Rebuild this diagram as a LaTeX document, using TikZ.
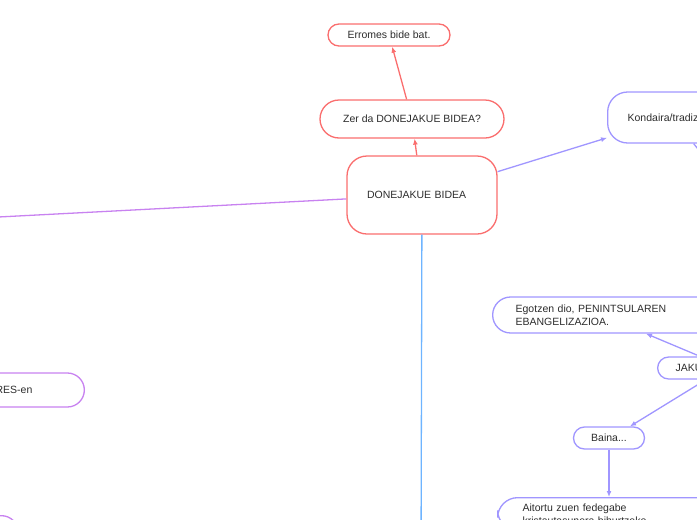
\documentclass[tikz,border=0pt]{standalone}
\usepackage{fontspec}
\setmainfont{Liberation Sans}
\usepackage{tikz}
\usetikzlibrary{arrows.meta}
\usepackage{xcolor}
\definecolor{mapred}{RGB}{250,110,110}
\definecolor{mapblue}{RGB}{160,150,255}
\definecolor{mappurple}{RGB}{200,130,240}
\definecolor{mapsky}{RGB}{110,180,255}
\definecolor{maptext}{RGB}{45,45,45}

\begin{document}
\begin{tikzpicture}[x=1pt, y=-1pt,
        % Define a style for the topic boxes and the arrows
        topic/.style={draw, fill=white, line width=1.3pt, text=maptext,
            font=\fontsize{10.5}{13}\selectfont, inner sep=0pt},
        link/.style={line width=1.3pt, -{Latex[length=6pt, width=5pt]}}]

        % 1. Fix the frame
        \useasboundingbox (0,0) rectangle (697,520);
        \clip (0,0) rectangle (697,520);

        % 2. Place the topics
        \node[topic, draw=mapred, minimum height=78pt, rounded corners=20pt, text width=110pt, inner xsep=20pt, align=left] (main) at (422,195) {DONEJAKUE BIDEA};
        \node[topic, draw=mapred, minimum width=184pt, minimum height=38pt, rounded corners=19pt] (zerda) at (412,119) {Zer da DONEJAKUE BIDEA?};
        \node[topic, draw=mapred, minimum width=122pt, minimum height=22pt, rounded corners=11pt] (erromes) at (389,35) {Erromes bide bat.};

        \node[topic, draw=mapblue, anchor=west, minimum height=51pt, rounded corners=20pt, text width=150pt, inner xsep=20pt, align=left] (kondaira) at (607,117.5) {Kondaira/tradizioa};
        \node[topic, draw=mapblue, anchor=west, minimum height=36pt, rounded corners=18pt, text width=220pt, inner xsep=23pt, align=left] (egotzen) at (492,315) {Egotzen dio, PENINTSULAREN\\EBANGELIZAZIOA.};
        \node[topic, draw=mapblue, anchor=west, minimum height=22pt, rounded corners=11pt, text width=100pt, inner xsep=18pt, align=left] (jakue) at (657,368) {JAKUE};
        \node[topic, draw=mapblue, minimum width=71pt, minimum height=22pt, rounded corners=11pt] (baina) at (609,438) {Baina...};
        \node[topic, draw=mapblue, anchor=north west, rounded corners=20pt, text width=200pt, inner xsep=25pt, inner ysep=6pt, align=left] (aitortu) at (497,497) {Aitortu zuen fedegabe\\kristautasunera bihurtzeko};

        \node[topic, draw=mappurple, anchor=east, minimum height=34pt, rounded corners=17pt, text width=41pt, inner xsep=52pt, align=right] (resen) at (85,390) {RES-en};
        \node[topic, draw=mappurple, anchor=north east, minimum width=80pt, minimum height=40pt, rounded corners=17pt] (lowleft) at (19,515) {};

        % 3. Free ends of the branches that leave the frame
        \coordinate (westend) at (-40,219);
        \coordinate (southend) at (421,560);
        \coordinate (kondend) at (747,210);

        % 4. Draw the branches
        \draw[link, draw=mapred] (main) -- (zerda);
        \draw[link, draw=mapred] (zerda) -- (erromes);
        \draw[link, draw=mapblue] (main) -- (kondaira.192);
        \draw[line width=1.3pt, draw=mappurple] (main) -- (westend);
        \draw[line width=1.3pt, draw=mapsky] (main) -- (southend);
        \draw[link, draw=mapblue] ([xshift=-9pt]kondaira.south) -- (kondend);
        \draw[link, draw=mapblue] ([xshift=43pt]jakue.north west) -- ([xshift=154pt]egotzen.south west);
        \draw[link, draw=mapblue] ([xshift=49pt]jakue.south west) -- ([xshift=21pt]baina.north);
        \draw[link, draw=mapblue] (baina.south) -- (baina.south |- aitortu.north);
    \end{tikzpicture}
\end{document}
